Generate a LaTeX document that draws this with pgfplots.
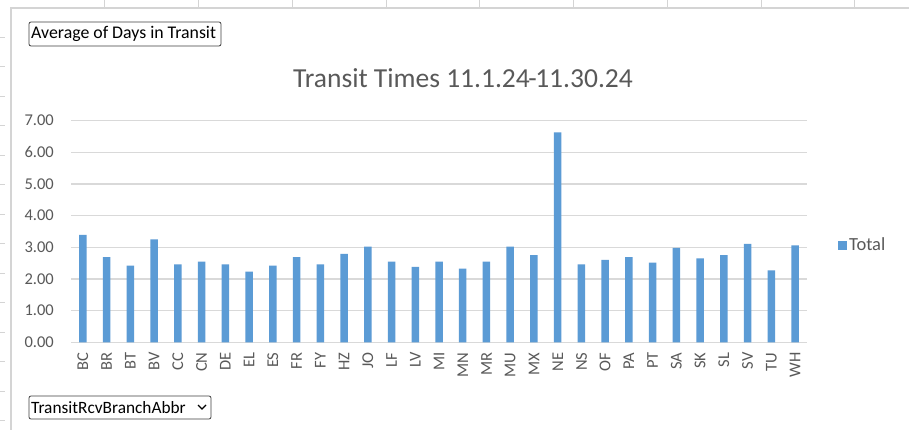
\documentclass[border=0pt]{standalone}
\usepackage{pgfplots}
\pgfplotsset{compat=1.18}
\usepackage{fontspec}
\setmainfont{Carlito}
\definecolor{barblue}{HTML}{5B9BD5}
\definecolor{gridgray}{HTML}{D9D9D9}
\definecolor{txtgray}{HTML}{595959}
\definecolor{sheetgray}{HTML}{D4D4D4}
\begin{document}
\begin{tikzpicture}
\useasboundingbox (0pt,0pt) rectangle (909pt,430pt);
\fill[white] (0pt,0pt) rectangle (909pt,430pt);
% spreadsheet background lines
\foreach \x in {104,198,292,386,479,573,667,761,854}
  \draw[sheetgray, line width=1pt] (\x pt,430pt) -- (\x pt,422pt);
\draw[sheetgray, line width=2pt] (10pt,422pt) -- (909pt,422pt);
\draw[sheetgray, line width=2pt] (11pt,0pt) -- (11pt,423pt);
\foreach \y in {392.5,363,333.5,304,274.5,245,215.5,186,156.5,127,97.5,68,38.5,9}
  \draw[sheetgray, line width=1pt] (0pt,\y pt) -- (5pt,\y pt);
% title
\node[text=txtgray, font=\fontsize{27.5}{31}\selectfont] at (463pt,352pt) {Transit Times 11.1.24\kern-1.5pt-\kern-1.5pt11.30.24};
% pivot buttons
\draw[rounded corners=2pt, black!75, line width=0.8pt] (29pt,384pt) rectangle (221pt,408pt);
\node[anchor=west, inner sep=0pt, font=\fontsize{17.8}{20}\selectfont] at (31pt,396pt) {Average of Days in Transit};
\draw[rounded corners=2pt, black!75, line width=0.8pt] (29pt,11pt) rectangle (211pt,34pt);
\node[anchor=west, inner sep=0pt, font=\fontsize{17.3}{20}\selectfont] at (31pt,22.5pt) {TransitRcvBranchAbbr};
\draw[black, line width=1.4pt] (198pt,25pt) -- (202pt,21pt) -- (206pt,25pt);
\begin{axis}[
  at={(71pt,87.7pt)}, anchor=south west,
  scale only axis, width=736pt, height=221.6pt,
  ybar, bar width=7.5pt,
  ymin=0, ymax=7, ytick={0,1,2,3,4,5,6,7},
  xmin=-0.5, xmax=30.5,
  xtick=data,
  xticklabels={BC,BR,BT,BV,CC,CN,DE,EL,ES,FR,FY,HZ,JO,LF,LV,MI,MN,MR,MU,MX,NE,NS,OF,PA,PT,SA,SK,SL,SV,TU,WH},
  axis lines*=left, axis line style={draw=none},
  major tick length=0pt,
  ymajorgrids, grid style={gridgray, line width=1.2pt},
  tick label style={font=\fontsize{16.5}{18}\selectfont, text=txtgray},
  yticklabel style={inner sep=0pt, xshift=-17pt, /pgf/number format/.cd, fixed, fixed zerofill, precision=2, assume math mode=true},
  xticklabel style={inner sep=0pt, yshift=-10pt, rotate=90, anchor=east},
  legend style={at={(1.042,0.439)}, anchor=west, draw=none, fill=none, inner sep=0pt,
    font=\fontsize{18.5}{20}\selectfont, text=txtgray},
  legend image code/.code={\fill[barblue] (0pt,-4.5pt) rectangle (9pt,4.5pt);},
  clip=false,
]
\addplot[fill=barblue, draw=none] coordinates {
(0,3.39) (1,2.69) (2,2.42) (3,3.25) (4,2.46) (5,2.55) (6,2.46) (7,2.23)
(8,2.42) (9,2.69) (10,2.46) (11,2.79) (12,3.02) (13,2.55) (14,2.38) (15,2.55)
(16,2.33) (17,2.55) (18,3.02) (19,2.75) (20,6.63) (21,2.46) (22,2.60) (23,2.69)
(24,2.52) (25,2.98) (26,2.65) (27,2.75) (28,3.11) (29,2.27) (30,3.06)
};
\addlegendentry{Total}
\end{axis}
\end{tikzpicture}
\end{document}
